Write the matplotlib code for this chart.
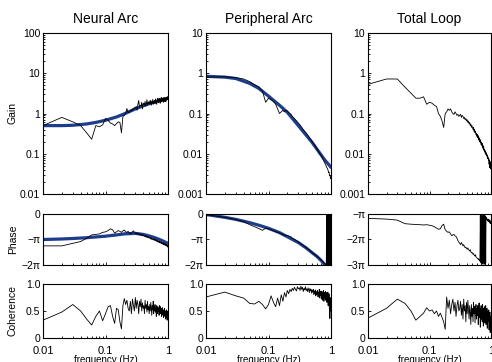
import numpy as np
import matplotlib
matplotlib.use("Agg")
import matplotlib.pyplot as plt
from matplotlib.ticker import FixedLocator, NullFormatter, LogLocator

plt.rcParams['font.family'] = ['Liberation Sans', 'DejaVu Sans']

# ---------------- data ----------------
freq = np.round(np.arange(1, 101) * 0.01, 2)  # 0.01 .. 1.00 Hz, measured bins

titles = ["Neural Arc", "Peripheral Arc", "Total Loop"]

neural_gain = [
    0.50, 0.80, 0.62, 0.50, 0.33, 0.23, 0.50, 0.47, 0.52, 0.75,
    0.68, 0.58, 0.55, 0.50, 0.56, 0.62, 0.60, 0.33, 0.85, 0.90,
    1.00, 1.33, 1.05, 1.10, 1.20, 1.15, 1.30, 1.25, 1.40, 1.35,
    1.50, 1.20, 1.70, 2.10, 1.40, 1.60, 1.55, 1.90, 1.30, 1.75,
    1.80, 1.60, 2.00, 1.50, 1.70, 2.20, 1.65, 1.90, 1.75, 2.05,
    1.70, 1.85, 2.10, 1.60, 1.95, 1.80, 2.25, 1.70, 2.00, 1.85,
    2.10, 1.75, 2.30, 1.90, 2.05, 1.70, 2.15, 2.00, 2.40, 1.85,
    2.20, 1.95, 2.35, 2.00, 1.80, 2.30, 2.10, 2.50, 1.95, 2.20,
    2.05, 2.40, 2.15, 1.90, 2.45, 2.20, 2.35, 2.00, 2.50, 2.25,
    2.40, 1.95, 2.30, 2.55, 2.15, 2.45, 2.20, 2.60, 2.35, 2.50]

peripheral_gain = [
    0.80, 0.82, 0.78, 0.72, 0.62, 0.52, 0.46, 0.36, 0.19, 0.24,
    0.22, 0.20, 0.17, 0.13, 0.10, 0.11, 0.12, 0.11, 0.12, 0.115,
    0.105, 0.10, 0.095, 0.085, 0.08, 0.075, 0.07, 0.066, 0.062, 0.058,
    0.055, 0.052, 0.048, 0.046, 0.042, 0.04, 0.038, 0.036, 0.034, 0.033,
    0.031, 0.030, 0.028, 0.027, 0.025, 0.024, 0.023, 0.022, 0.021, 0.020,
    0.019, 0.018, 0.0175, 0.017, 0.016, 0.0155, 0.015, 0.014, 0.0135, 0.013,
    0.0125, 0.012, 0.0115, 0.011, 0.0105, 0.0102, 0.0098, 0.0095, 0.0092, 0.009,
    0.0086, 0.0082, 0.0078, 0.0075, 0.0071, 0.0068, 0.0066, 0.0063, 0.006, 0.0058,
    0.0055, 0.0053, 0.0051, 0.0049, 0.0047, 0.0045, 0.0044, 0.0042, 0.0040, 0.0038,
    0.0036, 0.0034, 0.0035, 0.0031, 0.0030, 0.0028, 0.0029, 0.0026, 0.0024, 0.0025]

total_gain = [
    0.53, 0.72, 0.72, 0.45, 0.32, 0.24, 0.24, 0.26, 0.17, 0.19,
    0.18, 0.16, 0.15, 0.10, 0.085, 0.065, 0.045, 0.10, 0.11, 0.13,
    0.12, 0.13, 0.11, 0.10, 0.095, 0.11, 0.10, 0.09, 0.095, 0.085,
    0.09, 0.095, 0.08, 0.09, 0.085, 0.075, 0.08, 0.07, 0.075, 0.065,
    0.07, 0.06, 0.065, 0.055, 0.06, 0.05, 0.055, 0.045, 0.05, 0.045,
    0.04, 0.045, 0.036, 0.04, 0.033, 0.036, 0.03, 0.032, 0.027, 0.03,
    0.025, 0.028, 0.022, 0.025, 0.02, 0.023, 0.019, 0.021, 0.017, 0.019,
    0.016, 0.018, 0.014, 0.016, 0.013, 0.015, 0.012, 0.013, 0.011, 0.012,
    0.010, 0.011, 0.0095, 0.0105, 0.009, 0.0095, 0.008, 0.009, 0.0075, 0.008,
    0.007, 0.0075, 0.0055, 0.007, 0.0045, 0.0065, 0.005, 0.006, 0.0042, 0.0058]

# phases in units of pi
neural_phase = [
    -1.25, -1.25, -1.15, -1.08, -0.95, -0.82, -0.80, -0.78, -0.72, -0.70,
    -0.65, -0.58, -0.62, -0.75, -0.70, -0.65, -0.68, -0.72, -0.66, -0.63,
    -0.70, -0.72, -0.68, -0.74, -0.78, -0.72, -0.70, -0.66, -0.72, -0.75,
    -0.78, -0.74, -0.80, -0.76, -0.82, -0.78, -0.84, -0.80, -0.86, -0.82,
    -0.85, -0.88, -0.84, -0.90, -0.86, -0.92, -0.88, -0.94, -0.90, -0.93,
    -0.95, -0.92, -0.98, -0.94, -1.00, -0.96, -0.99, -1.02, -0.97, -1.00,
    -1.03, -0.99, -1.05, -1.01, -1.06, -1.03, -1.08, -1.04, -1.10, -1.06,
    -1.08, -1.12, -1.07, -1.10, -1.14, -1.09, -1.13, -1.11, -1.16, -1.12,
    -1.14, -1.18, -1.13, -1.16, -1.20, -1.15, -1.18, -1.22, -1.17, -1.20,
    -1.22, -1.18, -1.24, -1.20, -1.25, -1.22, -1.27, -1.23, -1.28, -1.30]

peripheral_phase = [
    -0.03, -0.13, -0.22, -0.30, -0.42, -0.50, -0.57, -0.64, -0.56, -0.58,
    -0.62, -0.66, -0.69, -0.72, -0.75, -0.78, -0.80, -0.83, -0.85, -0.84,
    -0.86, -0.88, -0.90, -0.95, -0.97, -1.00, -1.02, -1.05, -1.07, -1.10,
    -1.12, -1.14, -1.16, -1.19, -1.21, -1.23, -1.26, -1.28, -1.30, -1.32,
    -1.34, -1.36, -1.38, -1.40, -1.42, -1.44, -1.46, -1.48, -1.50, -1.52,
    -1.53, -1.55, -1.56, -1.58, -1.59, -1.61, -1.62, -1.64, -1.65, -1.67,
    -1.68, -1.70, -1.71, -1.72, -1.74, -1.75, -1.77, -1.78, -1.80, -1.81,
    -1.83, -1.84, -1.85, -1.87, -1.88, -1.90, -1.91, -1.92, -1.94, -1.95,
    -1.96, -1.97, -1.98, -1.99, -0.02, -1.98, -0.05, -1.99, -0.01, -1.97,
    -0.03, -1.99, -0.02, -1.98, -0.04, -1.99, -0.01, -1.97, -0.03, -0.05]

total_phase = [
    -1.17, -1.20, -1.24, -1.38, -1.40, -1.41, -1.42, -1.43, -1.42, -1.44,
    -1.46, -1.50, -1.55, -1.60, -1.58, -1.45, -1.40, -1.62, -1.68, -1.72,
    -1.70, -1.78, -1.85, -1.82, -1.80, -1.86, -1.88, -1.95, -2.05, -2.10,
    -2.15, -2.20, -2.12, -2.18, -2.25, -2.20, -2.28, -2.32, -2.30, -2.35,
    -2.38, -2.33, -2.40, -2.42, -2.45, -2.40, -2.48, -2.52, -2.50, -2.55,
    -2.58, -2.55, -2.60, -2.62, -2.65, -2.60, -2.68, -2.70, -2.72, -2.74,
    -2.75, -2.78, -2.76, -2.80, -2.82, -2.85, -1.05, -2.90, -1.10, -2.95,
    -1.05, -2.92, -1.08, -2.97, -1.02, -2.90, -1.10, -2.95, -1.05, -2.98,
    -1.08, -2.93, -1.12, -1.15, -1.20, -1.18, -1.25, -1.22, -1.28, -1.20,
    -1.25, -1.30, -1.22, -1.28, -1.35, -1.25, -1.30, -1.38, -1.32, -1.35]

neural_coh = [
    0.33, 0.48, 0.62, 0.50, 0.35, 0.24, 0.40, 0.50, 0.32, 0.45,
    0.58, 0.60, 0.40, 0.27, 0.55, 0.52, 0.30, 0.17, 0.60, 0.73,
    0.62, 0.70, 0.55, 0.50, 0.68, 0.45, 0.72, 0.60, 0.50, 0.75,
    0.55, 0.70, 0.62, 0.45, 0.68, 0.58, 0.72, 0.50, 0.65, 0.55,
    0.60, 0.45, 0.70, 0.55, 0.62, 0.48, 0.68, 0.52, 0.58, 0.45,
    0.62, 0.50, 0.66, 0.55, 0.42, 0.60, 0.52, 0.68, 0.45, 0.58,
    0.50, 0.62, 0.48, 0.55, 0.40, 0.60, 0.52, 0.45, 0.58, 0.50,
    0.55, 0.42, 0.60, 0.50, 0.45, 0.58, 0.48, 0.52, 0.40, 0.55,
    0.48, 0.56, 0.42, 0.50, 0.38, 0.52, 0.45, 0.55, 0.40, 0.48,
    0.50, 0.35, 0.45, 0.52, 0.38, 0.48, 0.33, 0.50, 0.42, 0.45]

peripheral_coh = [
    0.76, 0.85, 0.78, 0.74, 0.64, 0.63, 0.68, 0.62, 0.54, 0.62,
    0.78, 0.66, 0.58, 0.74, 0.60, 0.80, 0.68, 0.84, 0.76, 0.88,
    0.82, 0.90, 0.86, 0.92, 0.88, 0.94, 0.90, 0.87, 0.95, 0.91,
    0.93, 0.88, 0.96, 0.90, 0.94, 0.86, 0.92, 0.89, 0.95, 0.88,
    0.91, 0.86, 0.93, 0.89, 0.84, 0.92, 0.87, 0.90, 0.83, 0.88,
    0.85, 0.90, 0.80, 0.87, 0.82, 0.89, 0.78, 0.86, 0.80, 0.84,
    0.88, 0.76, 0.85, 0.80, 0.90, 0.74, 0.84, 0.79, 0.87, 0.72,
    0.82, 0.86, 0.70, 0.83, 0.78, 0.88, 0.68, 0.80, 0.84, 0.74,
    0.86, 0.70, 0.80, 0.76, 0.84, 0.66, 0.80, 0.72, 0.85, 0.60,
    0.78, 0.65, 0.82, 0.55, 0.70, 0.36, 0.75, 0.50, 0.62, 0.58]

total_coh = [
    0.37, 0.55, 0.72, 0.64, 0.50, 0.33, 0.40, 0.46, 0.56, 0.50,
    0.52, 0.45, 0.50, 0.40, 0.46, 0.38, 0.30, 0.16, 0.76, 0.55,
    0.70, 0.45, 0.62, 0.72, 0.50, 0.66, 0.40, 0.60, 0.70, 0.50,
    0.55, 0.68, 0.42, 0.62, 0.35, 0.72, 0.50, 0.60, 0.30, 0.66,
    0.45, 0.70, 0.52, 0.35, 0.60, 0.48, 0.25, 0.62, 0.40, 0.55,
    0.30, 0.66, 0.45, 0.58, 0.28, 0.50, 0.62, 0.35, 0.55, 0.42,
    0.60, 0.25, 0.50, 0.65, 0.38, 0.55, 0.20, 0.48, 0.60, 0.35,
    0.52, 0.30, 0.62, 0.45, 0.22, 0.55, 0.40, 0.58, 0.28, 0.50,
    0.42, 0.60, 0.25, 0.50, 0.35, 0.55, 0.18, 0.45, 0.30, 0.50,
    0.38, 0.52, 0.15, 0.45, 0.30, 0.48, 0.10, 0.35, 0.25, 0.40]

# model fits (blue curves), sampled frequencies
model_freq = [0.01, 0.02, 0.03, 0.05, 0.07, 0.1, 0.15, 0.2, 0.3, 0.4,
              0.5, 0.6, 0.7, 0.8, 0.9, 1.0]
neural_gain_model = [0.50, 0.50, 0.51, 0.55, 0.60, 0.68, 0.82, 0.98, 1.30, 1.55,
                     1.75, 1.92, 2.07, 2.20, 2.30, 2.40]
neural_phase_model = [-1.00, -0.98, -0.96, -0.93, -0.90, -0.87, -0.82, -0.78, -0.76, -0.80,
                      -0.86, -0.92, -0.98, -1.04, -1.10, -1.15]
peripheral_gain_model = [0.84, 0.80, 0.74, 0.56, 0.42, 0.27, 0.16, 0.107, 0.050, 0.029,
                         0.019, 0.0128, 0.0092, 0.0069, 0.0056, 0.0046]
pf_model_freq = [0.01, 0.02, 0.03, 0.05, 0.07, 0.1, 0.15, 0.2, 0.3, 0.4,
                 0.5, 0.6, 0.7, 0.8]
peripheral_phase_model = [-0.02, -0.13, -0.21, -0.34, -0.44, -0.56, -0.73, -0.89, -1.12, -1.33,
                          -1.52, -1.67, -1.83, -2.00]

# ---------------- figure ----------------
W, H = 492, 362
fig = plt.figure(figsize=(W / 100, H / 100), dpi=100)

def rect(l, t, r, b):
    return [l / W, 1 - b / H, (r - l) / W, (b - t) / H]

cols = [(43, 168), (206, 331), (368, 491)]
rows = [(33, 194), (214, 265), (284, 338)]

BLUE = '#1c3c8c'
TICK_FS = 7.5

gain_data = [neural_gain, peripheral_gain, total_gain]
phase_data = [neural_phase, peripheral_phase, total_phase]
coh_data = [neural_coh, peripheral_coh, total_coh]
gain_lims = [(0.01, 100), (0.001, 10), (0.001, 10)]
gain_ticks = [[0.01, 0.1, 1, 10, 100], [0.001, 0.01, 0.1, 1, 10], [0.001, 0.01, 0.1, 1, 10]]
gain_labels = [["0.01", "0.1", "1", "10", "100"],
               ["0.001", "0.01", "0.1", "1", "10"],
               ["0.001", "0.01", "0.1", "1", "10"]]
phase_lims = [(-2, 0), (-2, 0), (-3, -1)]
phase_ticks = [[-2, -1, 0], [-2, -1, 0], [-3, -2, -1]]
phase_labels = [["\u22122\u03c0", "\u2212\u03c0", "0"],
                ["\u22122\u03c0", "\u2212\u03c0", "0"],
                ["\u22123\u03c0", "\u22122\u03c0", "\u2212\u03c0"]]

def style_x(ax, labels):
    ax.set_xscale('log')
    ax.set_xlim(0.01, 1)
    ax.xaxis.set_major_locator(FixedLocator([0.01, 0.1, 1]))
    ax.xaxis.set_minor_locator(LogLocator(base=10, subs=np.arange(2, 10), numticks=20))
    ax.xaxis.set_minor_formatter(NullFormatter())
    if labels:
        ax.set_xticklabels(["0.01", "0.1", "1"], fontsize=8)
    else:
        ax.set_xticklabels([])
    ax.tick_params(axis='both', which='both', direction='in', top=False, right=False,
                   length=2.5, width=0.6, pad=2)
    ax.tick_params(axis='both', which='minor', length=1.5)
    ax.tick_params(axis='x', which='major', pad=6)
    for s in ax.spines.values():
        s.set_linewidth(0.8)

for i in range(3):
    l, r = cols[i]
    # Gain
    ax = fig.add_axes(rect(l, rows[0][0], r, rows[0][1]))
    if i == 0:
        ax.plot(model_freq, neural_gain_model, color=BLUE, lw=2.3, solid_capstyle='round')
    if i == 1:
        ax.plot(model_freq, peripheral_gain_model, color=BLUE, lw=2.3, solid_capstyle='round')
    ax.plot(freq, gain_data[i], color='black', lw=0.6)
    ax.set_yscale('log')
    ax.set_ylim(*gain_lims[i])
    ax.yaxis.set_major_locator(FixedLocator(gain_ticks[i]))
    ax.yaxis.set_minor_locator(LogLocator(base=10, subs=np.arange(2, 10), numticks=20))
    ax.yaxis.set_minor_formatter(NullFormatter())
    style_x(ax, False)
    ax.set_yticklabels(gain_labels[i], fontsize=TICK_FS)
    ax.set_title(titles[i], fontsize=10, pad=7)

    # Phase
    ax = fig.add_axes(rect(l, rows[1][0], r, rows[1][1]))
    if i == 0:
        ax.plot(model_freq, neural_phase_model, color=BLUE, lw=2.3, solid_capstyle='round')
    if i == 1:
        ax.plot(pf_model_freq, peripheral_phase_model, color=BLUE, lw=2.3, solid_capstyle='round')
    ax.plot(freq, phase_data[i], color='black', lw=0.6)
    ax.set_ylim(*phase_lims[i])
    ax.set_yticks(phase_ticks[i])
    style_x(ax, False)
    ax.set_yticklabels(phase_labels[i], fontsize=TICK_FS)

    # Coherence
    ax = fig.add_axes(rect(l, rows[2][0], r, rows[2][1]))
    ax.plot(freq, coh_data[i], color='black', lw=0.6)
    ax.set_ylim(0, 1.0)
    ax.set_yticks([0, 0.5, 1.0])
    style_x(ax, True)
    ax.set_yticklabels(["0", "0.5", "1.0"], fontsize=TICK_FS)
    ax.set_xlabel("frequency (Hz)", fontsize=7, labelpad=-1)

# row labels
for lab, (t, b) in zip(["Gain", "Phase", "Coherence"], rows):
    fig.text(13 / W, 1 - (t + b) / 2 / H, lab, rotation=90, ha='center', va='center',
             fontsize=7.5)

fig.savefig("out.png", dpi=100)
